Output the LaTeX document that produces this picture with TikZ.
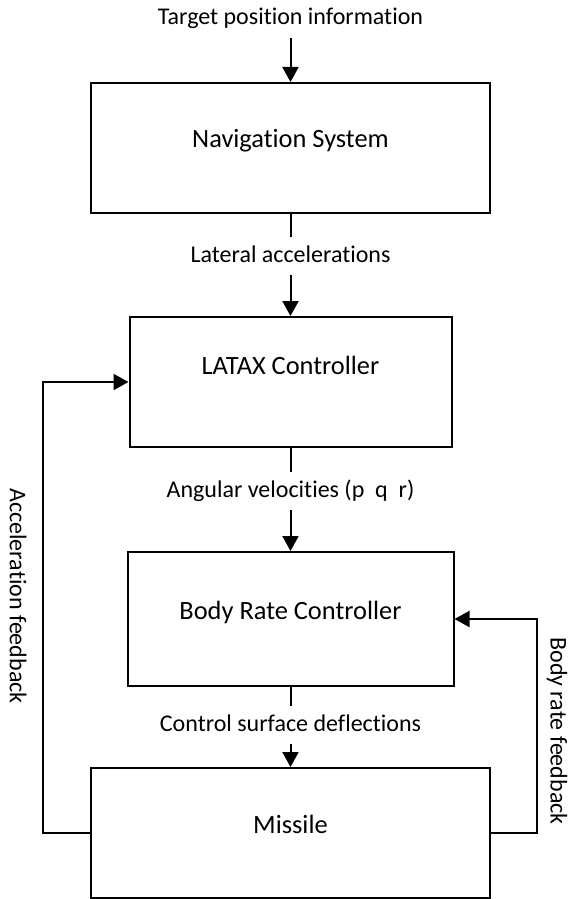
\documentclass[tikz,border=0pt]{standalone}
\usepackage{fontspec}
\setmainfont[RawFeature={-liga}]{Carlito}
\usepackage{tikz}
\usetikzlibrary{arrows.meta}
\tikzset{
    every node/.style={font=\fontsize{12pt}{14pt}\selectfont},
    blockbox/.style={draw, line width=1pt, inner sep=0pt, text height=8pt, text depth=8pt,
        font=\fontsize{13.2pt}{15pt}\selectfont},
    flowlabel/.style={anchor=base, text height=9pt, text depth=3pt},
    sidelabel/.style={rotate=-90},
    flowline/.style={line width=1pt},
    flowarrow/.style={line width=1pt, -{Triangle[length=7.5pt,width=8pt]}}
}
\newcommand{\blocknode}[6]{\node[blockbox, minimum width=#4pt, minimum height=#5pt, #6] (#1) at (#2) {#3};}
\newcommand{\flownode}[3]{\node[flowlabel] (#1) at (#2) {#3};}
\begin{document}
\begin{tikzpicture}[x=0.5pt, y=-0.5pt]
                \useasboundingbox (0,0) rectangle (569,899);
                % blocks
                \blocknode{nav}{290.5,148}{Navigation System}{199.5}{65}{}
                \blocknode{latax}{290.5,382}{LATAX Controller}{161}{65}{text depth=16pt}
                \blocknode{brc}{290.5,619}{Body Rate Controller}{163}{67}{}
                \blocknode{missile}{290.5,833}{Missile}{199.5}{65}{}

                % signals
                \flownode{target}{290.5,25}{Target position information}
                \flownode{lat}{290.5,262}{Lateral accelerations}
                \flownode{ang}{290.5,497}{Angular velocities (p\ \ q\ \ r)}
                \flownode{csd}{290.5,731}{Control surface deflections}

                \draw[flowarrow] (target) -- (nav);
                \draw[flowline] (nav) -- (lat);
                \draw[flowarrow] (lat) -- (latax);
                \draw[flowline] (latax) -- (ang);
                \draw[flowarrow] (ang) -- (brc);
                \draw[flowline] (brc) -- (csd);
                \draw[flowarrow] (csd) -- (missile);

                % feedback loops
                \coordinate (accturn) at (43,382);
                \coordinate (rateturn) at (537,619);
                \draw[flowarrow] (missile.west) -| (accturn) -- (latax.west);
                \draw[flowarrow] (missile.east) -| (rateturn) -- (brc.east);

                \node[sidelabel] (accfb) at (18,596) {Acceleration feedback};
                \node[sidelabel] (ratefb) at (557,731) {Body rate feedback};
            \end{tikzpicture}
\end{document}
